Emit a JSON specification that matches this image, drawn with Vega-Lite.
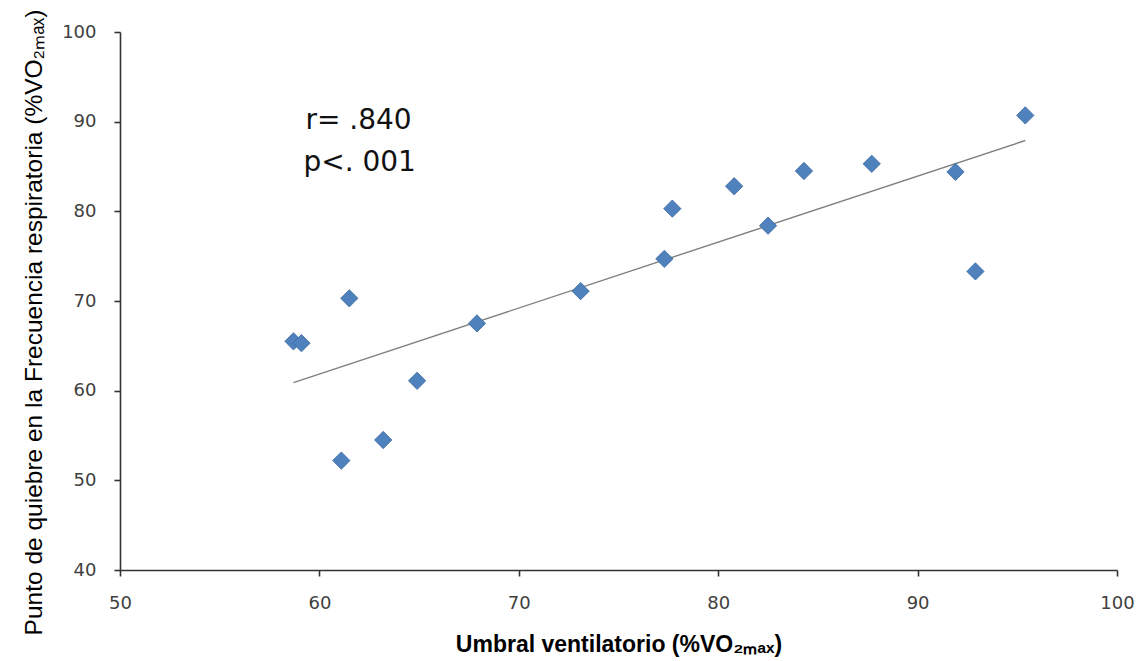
{
  "$schema": "https://vega.github.io/schema/vega-lite/v6.json",
  "width": 997,
  "height": 538,
  "autosize": "none",
  "padding": {"left": 120, "top": 32, "right": 25, "bottom": 91},
  "background": "white",
  "config": {"view": {"stroke": null}},
  "datasets": {
    "points": [
      {"umbral": 58.7, "quiebre": 65.5},
      {"umbral": 59.1, "quiebre": 65.3},
      {"umbral": 61.5, "quiebre": 70.3},
      {"umbral": 61.1, "quiebre": 52.2},
      {"umbral": 63.2, "quiebre": 54.5},
      {"umbral": 64.9, "quiebre": 61.1},
      {"umbral": 67.9, "quiebre": 67.5},
      {"umbral": 73.1, "quiebre": 71.1},
      {"umbral": 77.3, "quiebre": 74.7},
      {"umbral": 77.7, "quiebre": 80.3},
      {"umbral": 80.8, "quiebre": 82.8},
      {"umbral": 82.5, "quiebre": 78.4},
      {"umbral": 84.3, "quiebre": 84.5},
      {"umbral": 87.7, "quiebre": 85.3},
      {"umbral": 91.9, "quiebre": 84.4},
      {"umbral": 92.9, "quiebre": 73.3},
      {"umbral": 95.4, "quiebre": 90.7}
    ],
    "trend": [
      {"umbral": 58.7, "quiebre": 60.9},
      {"umbral": 95.4, "quiebre": 87.9}
    ],
    "notes": [
      {"umbral": 59.3, "quiebre": 90.1, "label": "r= .840"},
      {"umbral": 59.2, "quiebre": 85.4, "label": "p<. 001"}
    ]
  },
  "layer": [
    {
      "data": {"name": "trend"},
      "mark": {"type": "line", "color": "#7f7f7f", "strokeWidth": 1.4},
      "encoding": {
        "x": {
          "field": "umbral", "type": "quantitative",
          "scale": {"domain": [50, 100], "nice": false, "zero": false},
          "axis": {
            "title": "Umbral ventilatorio (%VO₂ₘₐₓ)",
            "titleFont": "Liberation Sans", "titleFontSize": 23, "titleFontWeight": "bold", "titleColor": "#000000",
            "titlePadding": 21,
            "values": [50, 60, 70, 80, 90, 100],
            "grid": false,
            "labelFlush": false,
            "labelOverlap": false,
            "domainColor": "#333333", "domainWidth": 1.6,
            "tickColor": "#333333", "tickSize": 6, "tickWidth": 1.6,
            "labelFont": "DejaVu Sans", "labelFontSize": 18, "labelColor": "#404040",
            "labelPadding": 18
          }
        },
        "y": {
          "field": "quiebre", "type": "quantitative",
          "scale": {"domain": [40, 100], "nice": false, "zero": false},
          "axis": {
            "title": "Punto de quiebre en la Frecuencia respiratoria (%VO₂ₘₐₓ)",
            "titleFont": "Liberation Sans", "titleFontSize": 24.5, "titleFontWeight": "normal", "titleColor": "#000000",
            "titlePadding": 15,
            "titleY": 290,
            "values": [40, 50, 60, 70, 80, 90, 100],
            "grid": false,
            "labelFlush": false,
            "labelOverlap": false,
            "domainColor": "#333333", "domainWidth": 1.6,
            "tickColor": "#333333", "tickSize": 6, "tickWidth": 1.6,
            "labelFont": "DejaVu Sans", "labelFontSize": 18, "labelColor": "#404040",
            "labelPadding": 18
          }
        }
      }
    },
    {
      "data": {"name": "points"},
      "mark": {"type": "point", "shape": "diamond", "filled": true, "size": 300, "fill": "#4F81BD", "stroke": "#3A68A0", "strokeWidth": 0.8, "opacity": 1},
      "encoding": {
        "x": {"field": "umbral", "type": "quantitative"},
        "y": {"field": "quiebre", "type": "quantitative"}
      }
    },
    {
      "data": {"name": "notes"},
      "mark": {"type": "text", "align": "left", "baseline": "middle", "font": "DejaVu Sans", "fontSize": 28, "color": "#111111"},
      "encoding": {
        "x": {"field": "umbral", "type": "quantitative"},
        "y": {"field": "quiebre", "type": "quantitative"},
        "text": {"field": "label"}
      }
    }
  ]
}
